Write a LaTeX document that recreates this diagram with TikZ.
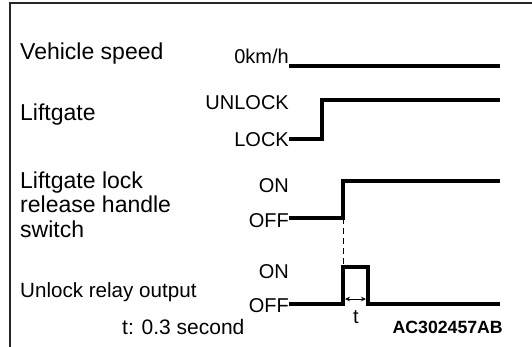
\documentclass[tikz,border=0pt]{standalone}
\usepackage{fontspec}
\setmainfont{Liberation Sans}
\usetikzlibrary{arrows.meta}
\begin{document}
\begin{tikzpicture}[x=1pt,y=-1pt,
  lab/.style={anchor=base west,inner sep=0pt,font=\fontsize{23}{24}\selectfont},
  sig/.style={anchor=base east,inner sep=0pt,font=\fontsize{20}{20}\selectfont},
  wave/.style={line width=3.2pt,line join=miter},
  frame/.style={line width=2.2pt,draw=black!85},
  dim/.style={line width=0.8pt,{Stealth[length=5pt,width=4.5pt]}-{Stealth[length=5pt,width=4.5pt]}}]
\useasboundingbox (0,0) rectangle (532,347);
% frame
\coordinate (fa) at (10,347);
\coordinate (fb) at (10,3);
\coordinate (fc) at (532,3);
\draw[frame] (fa) -- (fb) -- (fc);
% left labels
\node[lab] (lspd) at (20,60) {Vehicle speed};
\node[lab] (llg) at (20,121) {Liftgate};
\node[lab] (lsw1) at (20,189) {Liftgate lock};
\node[lab] (lsw2) at (20,213) {release handle};
\node[lab] (lsw3) at (20,237) {switch};
\node[lab,font=\fontsize{20.6}{22}\selectfont] (lrel) at (20,297) {Unlock relay output};
% signal labels
\node[sig] (s0) at (289,64) {0km/h};
\node[sig] (sun) at (289,110) {UNLOCK};
\node[sig] (slk) at (289,147) {LOCK};
\node[sig] (son) at (289,193) {ON};
\node[sig] (soff) at (289,228) {OFF};
\node[sig] (ron) at (289,278) {ON};
\node[sig] (roff) at (289,312) {OFF};
% vehicle speed
\coordinate (v0) at (289,66);
\coordinate (v1) at (500,66);
\draw[wave] (v0) -- (v1);
% liftgate
\coordinate (g0) at (289,139);
\coordinate (g1) at (322,139);
\coordinate (g2) at (322,100);
\coordinate (g3) at (500,100);
\draw[wave] (g0) -- (g1) -- (g2) -- (g3);
% switch
\coordinate (w0) at (289,218);
\coordinate (w1) at (343,218);
\coordinate (w2) at (343,181);
\coordinate (w3) at (500,181);
\draw[wave] (w0) -- (w1) -- (w2) -- (w3);
% dashed link
\coordinate (d1) at (343,265);
\draw[line width=0.9pt,dash pattern=on 6pt off 4pt] (w1) -- (d1);
% relay
\coordinate (r0) at (289,304);
\coordinate (r1) at (343,304);
\coordinate (r2) at (343,267);
\coordinate (r3) at (368,267);
\coordinate (r4) at (368,304);
\coordinate (r5) at (500,304);
\draw[wave] (r0) -- (r1) -- (r2) -- (r3) -- (r4) -- (r5);
% t dimension
\coordinate (ta) at (345,299);
\coordinate (tb) at (366,299);
\draw[dim] (ta) -- (tb);
\node[anchor=base,inner sep=0pt,font=\fontsize{20}{20}\selectfont] (tl) at (356,323) {t};
% footer
\node[anchor=base west,inner sep=0pt,font=\fontsize{21}{22}\selectfont] (foot) at (122,334) {t: 0.3 second};
\node[anchor=base east,inner sep=0pt,font=\bfseries\fontsize{17.7}{18}\selectfont] (code) at (503,333) {AC302457AB};
\end{tikzpicture}
\end{document}
